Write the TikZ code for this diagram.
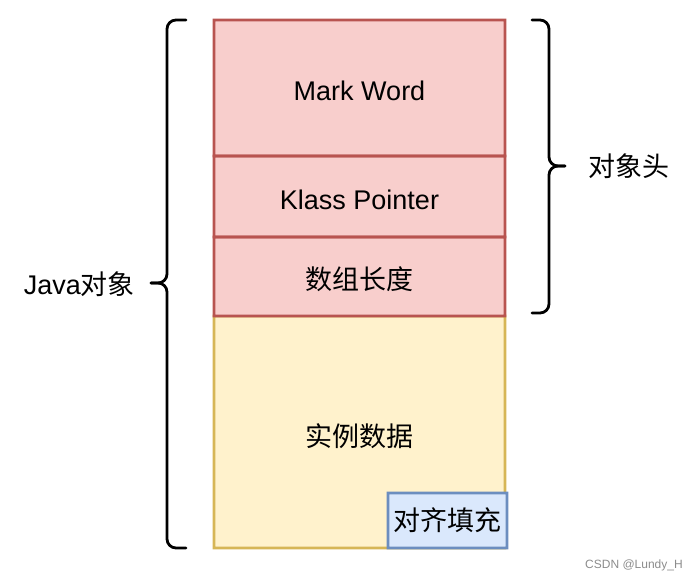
\documentclass[tikz,border=0pt]{standalone}
\usepackage{fontspec}
\setmainfont{Liberation Sans}
\newfontfamily\cjk{Noto Sans CJK SC}
\definecolor{redline}{HTML}{B85450}
\definecolor{redfill}{HTML}{F8CECC}
\definecolor{yelline}{HTML}{D6B656}
\definecolor{yelfill}{HTML}{FFF2CC}
\definecolor{bluline}{HTML}{6C8EBF}
\definecolor{blufill}{HTML}{DAE8FC}
% border drawn as a filled ring (half width 1.4)
\newcommand\frameit[2]{%
  \fill[#2,even odd rule]
    ([shift={(-1.4,-1.4)}]#1.north west) rectangle ([shift={(1.4,1.4)}]#1.south east)
    ([shift={(1.4,1.4)}]#1.north west) rectangle ([shift={(-1.4,-1.4)}]#1.south east);}
\begin{document}
\begin{tikzpicture}[x=1pt,y=-1pt,
  cell/.style={rectangle,inner sep=0pt,outer sep=0pt,font=\fontsize{27}{32}\selectfont},
  lbl/.style={inner sep=0pt,font=\fontsize{27}{32}\selectfont},
  brace/.style={line width=2.8pt,rounded corners=9pt,line cap=round}]
\useasboundingbox (0,0) rectangle (696,582);
% body
\node[cell,fill=yelfill,minimum width=291pt,minimum height=232pt] (data) at (359.5,432) {};
\frameit{data}{yelline}
\node[lbl] (datat) at (359.5,436) {\cjk 实例数据};
\node[cell,fill=blufill,minimum width=119pt,minimum height=55pt] (padding) at (447.5,520.5) {\cjk 对齐填充};
\frameit{padding}{bluline}
% header
\node[cell,fill=redfill,minimum width=291pt,minimum height=136pt] (mark) at (359.5,88) {};
\node[cell,fill=redfill,minimum width=291pt,minimum height=81pt] (klass) at (359.5,196.5) {};
\node[cell,fill=redfill,minimum width=291pt,minimum height=79pt] (arr) at (359.5,276.5) {};
\frameit{mark}{redline}
\frameit{klass}{redline}
\frameit{arr}{redline}
\node[lbl] (markt) at (359.5,91) {Mark Word};
\node[lbl] (klasst) at (359.5,200) {Klass Pointer};
\node[lbl] (arrt) at (359.5,279) {\cjk 数组长度};
% left brace
\coordinate (lt) at (186,20);
\coordinate (lm) at (151,283);
\coordinate (lb) at (186,548);
\draw[brace] (lt) -| (167,283) -- (lm);
\draw[brace] (lm) -- (167,283) |- (lb);
\node[lbl,anchor=east] (java) at (135,284) {Java{\cjk 对象}};
% right brace
\coordinate (rt) at (532,20);
\coordinate (rm) at (565,166);
\coordinate (rb) at (532,313);
\draw[brace] (rt) -| (549,166) -- (rm);
\draw[brace] (rm) -- (549,166) |- (rb);
\node[lbl,anchor=west] (head) at (588,166) {\cjk 对象头};
\node[inner sep=0pt,text=black!45,font=\fontsize{12}{14}\selectfont] (wm) at (634,565) {CSDN @Lundy\_H};
\end{tikzpicture}
\end{document}
